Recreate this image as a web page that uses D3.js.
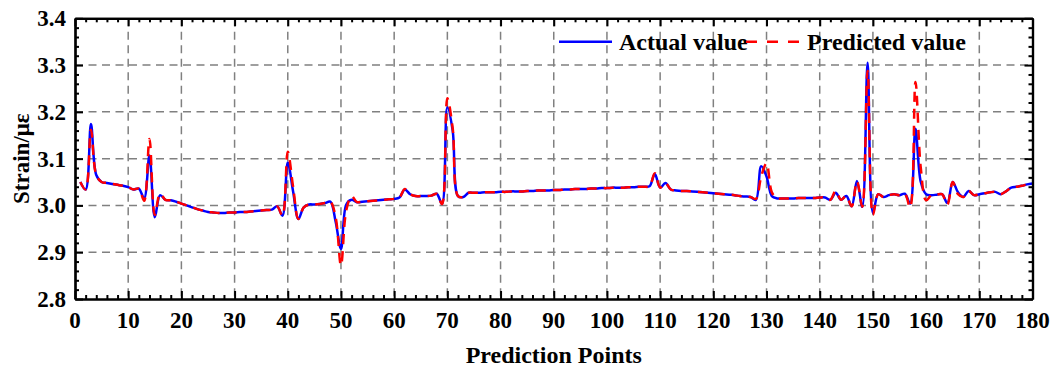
<!DOCTYPE html>
<html>
<head>
<meta charset="utf-8">
<script src="https://cdn.jsdelivr.net/npm/d3@7"></script>
<style>
  html, body { margin: 0; padding: 0; background: #fff; }
  svg { display: block; }
  text { font-family: "Liberation Serif", "Times New Roman", serif; font-weight: bold; fill: #000; }
</style>
</head>
<body>
<svg id="chart" width="1056" height="371"></svg>
<script>
// Measured strain at each prediction point (1..180)
const actualValues = [
  3.050, 3.034, 3.174, 3.065, 3.050, 3.048, 3.046, 3.044, 3.042, 3.039,
  3.034, 3.036, 3.015, 3.107, 2.975, 3.022, 3.012, 3.011, 3.008, 3.004,
  3.000, 2.996, 2.992, 2.989, 2.986, 2.985, 2.984, 2.984, 2.985, 2.985,
  2.986, 2.986, 2.987, 2.988, 2.989, 2.990, 2.991, 2.998, 2.978, 3.092,
  3.030, 2.971, 2.996, 3.002, 3.002, 3.003, 3.005, 3.008, 2.965, 2.907,
  3.002, 3.012, 3.007, 3.008, 3.009, 3.010, 3.011, 3.012, 3.013, 3.014,
  3.017, 3.034, 3.024, 3.020, 3.020, 3.020, 3.021, 3.025, 3.003, 3.210,
  3.160, 3.020, 3.018, 3.027, 3.027, 3.027, 3.028, 3.028, 3.028, 3.029,
  3.029, 3.030, 3.030, 3.030, 3.031, 3.031, 3.032, 3.032, 3.032, 3.033,
  3.033, 3.034, 3.034, 3.035, 3.035, 3.035, 3.036, 3.036, 3.037, 3.037,
  3.038, 3.038, 3.038, 3.039, 3.039, 3.040, 3.040, 3.041, 3.067, 3.038,
  3.048, 3.034, 3.032, 3.031, 3.031, 3.030, 3.029, 3.028, 3.027, 3.026,
  3.025, 3.024, 3.023, 3.022, 3.020, 3.019, 3.018, 3.012, 3.084, 3.062,
  3.020, 3.015, 3.015, 3.015, 3.015, 3.016, 3.016, 3.016, 3.016, 3.017,
  3.017, 3.012, 3.027, 3.012, 3.020, 2.998, 3.052, 2.997, 3.305, 2.984,
  3.024, 3.018, 3.022, 3.024, 3.022, 3.025, 3.004, 3.164, 3.050, 3.024,
  3.022, 3.023, 3.024, 3.005, 3.050, 3.028, 3.018, 3.031, 3.022, 3.024,
  3.026, 3.028, 3.029, 3.024, 3.030, 3.038, 3.040, 3.042, 3.045, 3.047
];

// Model output at the same points
const predictedValues = [
  3.050, 3.034, 3.162, 3.065, 3.050, 3.048, 3.046, 3.044, 3.042, 3.039,
  3.034, 3.036, 3.010, 3.142, 2.980, 3.025, 3.012, 3.011, 3.008, 3.004,
  3.000, 2.996, 2.992, 2.989, 2.986, 2.985, 2.984, 2.984, 2.985, 2.985,
  2.986, 2.986, 2.987, 2.988, 2.989, 2.990, 2.991, 2.998, 2.978, 3.115,
  3.040, 2.971, 2.996, 3.002, 3.002, 3.003, 3.005, 3.008, 2.975, 2.872,
  2.990, 3.020, 3.007, 3.008, 3.009, 3.010, 3.011, 3.012, 3.013, 3.014,
  3.017, 3.035, 3.024, 3.020, 3.020, 3.020, 3.021, 3.025, 3.003, 3.229,
  3.165, 3.020, 3.018, 3.027, 3.027, 3.027, 3.028, 3.028, 3.028, 3.029,
  3.029, 3.030, 3.030, 3.030, 3.031, 3.031, 3.032, 3.032, 3.032, 3.033,
  3.033, 3.034, 3.034, 3.035, 3.035, 3.035, 3.036, 3.036, 3.037, 3.037,
  3.038, 3.038, 3.038, 3.039, 3.039, 3.040, 3.040, 3.041, 3.069, 3.038,
  3.048, 3.034, 3.032, 3.031, 3.031, 3.030, 3.029, 3.028, 3.027, 3.026,
  3.025, 3.024, 3.023, 3.022, 3.020, 3.019, 3.018, 3.014, 3.062, 3.090,
  3.028, 3.015, 3.015, 3.015, 3.015, 3.016, 3.016, 3.016, 3.016, 3.017,
  3.017, 3.012, 3.031, 3.012, 3.020, 2.998, 3.052, 2.997, 3.288, 2.980,
  3.024, 3.018, 3.022, 3.024, 3.022, 3.025, 2.996, 3.264, 3.080, 3.011,
  3.022, 3.023, 3.024, 3.002, 3.050, 3.024, 3.018, 3.031, 3.022, 3.024,
  3.026, 3.028, 3.029, 3.024, 3.030, 3.038, 3.040, 3.042, 3.045, 3.047
];

const xTickValues = [0, 10, 20, 30, 40, 50, 60, 70, 80, 90, 100, 110, 120, 130, 140, 150, 160, 170, 180];
const yTickValues = [2.8, 2.9, 3.0, 3.1, 3.2, 3.3, 3.4];
const seriesNames = ["Actual value", "Predicted value"];
const xTitle = "Prediction Points";
const yTitle = "Strain/με";

const svg = d3.select("#chart");
const plotLeft = 75, plotRight = 1032.5, plotTop = 18.3, plotBottom = 299;

const x = d3.scaleLinear().domain([0, 180]).range([plotLeft, plotRight]);
const y = d3.scaleLinear().domain([2.8, 3.4]).range([plotBottom, plotTop]);

// Dashed grid at interior major ticks
const grid = svg.append("g").attr("stroke", "#808080").attr("stroke-width", 1.5)
  .attr("stroke-dasharray", "8,5.5").attr("fill", "none");
xTickValues.filter(v => v > 0 && v < 180).forEach(v => {
  grid.append("line").attr("x1", x(v)).attr("x2", x(v)).attr("y1", plotTop).attr("y2", plotBottom);
});
yTickValues.filter(v => v > 2.8 && v < 3.4).forEach(v => {
  grid.append("line").attr("x1", plotLeft).attr("x2", plotRight).attr("y1", y(v)).attr("y2", y(v));
});

// Curves
svg.append("clipPath").attr("id", "plotClip").append("rect")
  .attr("x", plotLeft).attr("y", plotTop).attr("width", plotRight - plotLeft).attr("height", plotBottom - plotTop);

const line = d3.line()
  .x((d, i) => x(i + 1))
  .y(d => y(d))
  .curve(d3.curveCatmullRom.alpha(0.5));

const plot = svg.append("g").attr("clip-path", "url(#plotClip)");
plot.append("path").datum(actualValues)
  .attr("d", line).attr("fill", "none").attr("stroke", "#0000ff").attr("stroke-width", 2.5)
  .attr("stroke-linejoin", "round");
plot.append("path").datum(predictedValues)
  .attr("d", line).attr("fill", "none").attr("stroke", "#ff0000").attr("stroke-width", 2.5)
  .attr("stroke-dasharray", "10,7").attr("stroke-linejoin", "round");

// Axes with inward ticks on all four sides
const xMinor = d3.range(0, 181, 2).filter(v => v % 10 !== 0);
const yMinor = d3.range(0, 31).map(i => +(2.8 + i * 0.02).toFixed(2)).filter(v => Math.round(v * 100) % 10 !== 0);

function axisFrame(axisGen, transform) {
  const g = svg.append("g").attr("transform", transform).call(axisGen);
  g.select(".domain").attr("stroke", "#000").attr("stroke-width", 2.2);
  g.selectAll(".tick line").attr("stroke", "#000").attr("stroke-width", 2);
  return g;
}

// Bottom
axisFrame(d3.axisBottom(x).tickValues(xTickValues).tickSize(-8).tickSizeOuter(0).tickFormat(""), `translate(0,${plotBottom})`);
axisFrame(d3.axisBottom(x).tickValues(xMinor).tickSize(-4).tickSizeOuter(0).tickFormat(""), `translate(0,${plotBottom})`);
// Top
axisFrame(d3.axisTop(x).tickValues(xTickValues).tickSize(-8).tickSizeOuter(0).tickFormat(""), `translate(0,${plotTop})`);
axisFrame(d3.axisTop(x).tickValues(xMinor).tickSize(-4).tickSizeOuter(0).tickFormat(""), `translate(0,${plotTop})`);
// Left
axisFrame(d3.axisLeft(y).tickValues(yTickValues).tickSize(-8).tickSizeOuter(0).tickFormat(""), `translate(${plotLeft},0)`);
axisFrame(d3.axisLeft(y).tickValues(yMinor).tickSize(-4).tickSizeOuter(0).tickFormat(""), `translate(${plotLeft},0)`);
// Right
axisFrame(d3.axisRight(y).tickValues(yTickValues).tickSize(-8).tickSizeOuter(0).tickFormat(""), `translate(${plotRight},0)`);
axisFrame(d3.axisRight(y).tickValues(yMinor).tickSize(-4).tickSizeOuter(0).tickFormat(""), `translate(${plotRight},0)`);

// Tick labels
svg.append("g").selectAll("text").data(xTickValues).join("text")
  .attr("x", d => x(d)).attr("y", 328).attr("text-anchor", "middle")
  .attr("font-size", 23).text(d => d);
svg.append("g").selectAll("text").data(yTickValues).join("text")
  .attr("x", 66).attr("y", d => y(d)).attr("dy", "0.35em").attr("text-anchor", "end")
  .attr("font-size", 23).text(d => d.toFixed(1));

// Axis titles
svg.append("text").attr("x", (plotLeft + plotRight) / 2).attr("y", 363).attr("text-anchor", "middle")
  .attr("font-size", 24).text(xTitle);
svg.append("text").attr("transform", `translate(29,${(plotTop + plotBottom) / 2}) rotate(-90)`)
  .attr("text-anchor", "middle").attr("font-size", 23).text(yTitle);

// Legend
const legend = svg.append("g");
legend.append("line").attr("x1", 559).attr("x2", 612).attr("y1", 41.7).attr("y2", 41.7)
  .attr("stroke", "#0000ff").attr("stroke-width", 2.5);
legend.append("text").attr("x", 619).attr("y", 50).attr("font-size", 24).text(seriesNames[0]);
legend.append("line").attr("x1", 746).attr("x2", 800).attr("y1", 41.7).attr("y2", 41.7)
  .attr("stroke", "#ff0000").attr("stroke-width", 2.5).attr("stroke-dasharray", "11,10");
legend.append("text").attr("x", 807).attr("y", 50).attr("font-size", 24).text(seriesNames[1]);
</script>
</body>
</html>
